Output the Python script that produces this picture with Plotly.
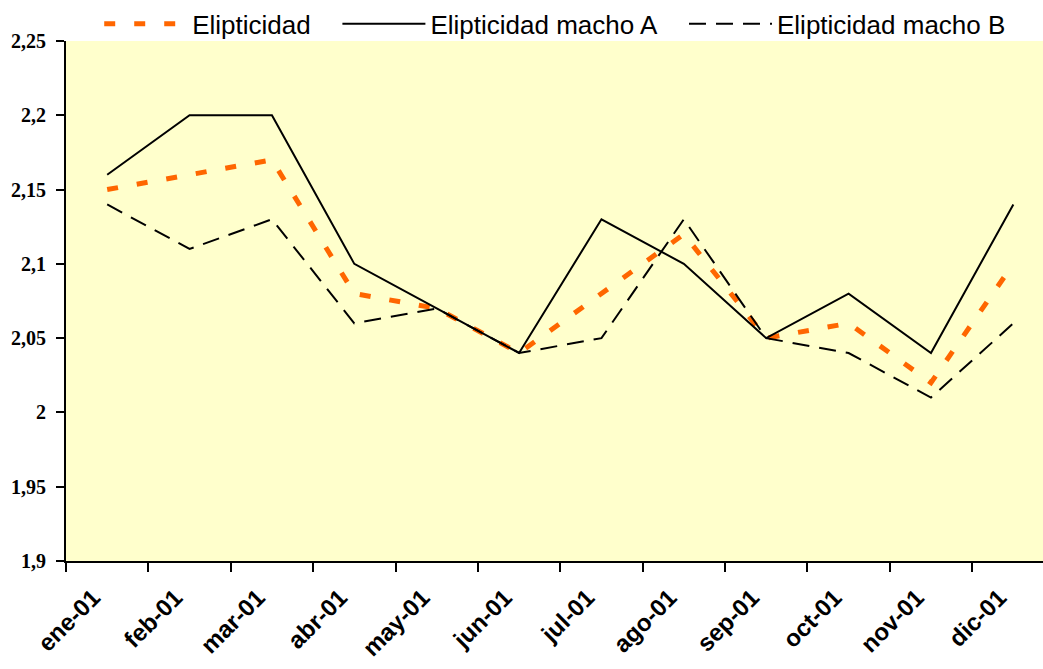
import plotly.graph_objects as go

# Monthly ellipticity values (2001)
meses = ["ene-01", "feb-01", "mar-01", "abr-01", "may-01", "jun-01",
         "jul-01", "ago-01", "sep-01", "oct-01", "nov-01", "dic-01"]
elipticidad = [2.15, 2.16, 2.17, 2.08, 2.07, 2.04, 2.08, 2.12, 2.05, 2.06, 2.02, 2.10]
macho_a = [2.16, 2.20, 2.20, 2.10, 2.07, 2.04, 2.13, 2.10, 2.05, 2.08, 2.04, 2.14]
macho_b = [2.14, 2.11, 2.13, 2.06, 2.07, 2.04, 2.05, 2.13, 2.05, 2.04, 2.01, 2.06]

y_ticks = [1.9, 1.95, 2.0, 2.05, 2.1, 2.15, 2.2, 2.25]
y_labels = ["1,9", "1,95", "2", "2,05", "2,1", "2,15", "2,2", "2,25"]

# non-breaking spaces widen the gap between legend entries
PAD = "\u00a0" * 3

fig = go.Figure()
fig.add_trace(go.Scatter(
    x=meses, y=elipticidad, mode="lines", name="Elipticidad" + PAD,
    line=dict(color="#FF6600", width=5, dash="11px,19px"),
))
fig.add_trace(go.Scatter(
    x=meses, y=macho_a, mode="lines", name="Elipticidad macho A" + PAD,
    line=dict(color="black", width=2),
))
fig.add_trace(go.Scatter(
    x=meses, y=macho_b, mode="lines", name="Elipticidad macho B",
    line=dict(color="black", width=2, dash="17px,10px"),
))

fig.update_layout(
    width=1043, height=669,
    margin=dict(l=66, r=0, t=41, b=108),
    paper_bgcolor="white",
    plot_bgcolor="#FFFFCC",
    showlegend=True,
    legend=dict(
        orientation="h",
        x=0.034, xanchor="left",
        y=1.033, yanchor="middle",
        font=dict(family="Liberation Sans, Arial", size=26, color="black"),
        itemwidth=83,
        bgcolor="rgba(0,0,0,0)",
        tracegroupgap=0,
    ),
    xaxis=dict(
        type="category",
        range=[-0.5, 11.36],
        tickson="boundaries",
        automargin=False,
        ticks="outside", ticklen=9, tickwidth=2, tickcolor="black",
        showline=True, linewidth=2, linecolor="black",
        showgrid=False, zeroline=False,
        tickangle=-45,
        ticklabelstandoff=11,
        ticklabelshift=-14,
        tickfont=dict(family="Liberation Sans, Arial", size=24, color="black", weight="bold"),
    ),
    yaxis=dict(
        range=[1.9, 2.25],
        tickvals=y_ticks, ticktext=y_labels,
        automargin=False,
        ticks="outside", ticklen=8, tickwidth=2, tickcolor="black",
        showline=True, linewidth=2, linecolor="black",
        showgrid=False, zeroline=False,
        ticklabelstandoff=6,
        tickfont=dict(family="Liberation Serif, Times New Roman", size=20, color="black", weight="bold"),
    ),
)

fig.write_html("out.html")
